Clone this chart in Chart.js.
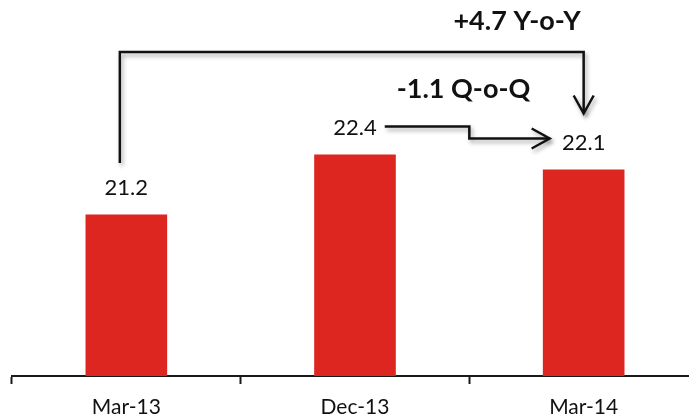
<!DOCTYPE html>
<html>
<head>
<meta charset="utf-8">
<script src="https://cdn.jsdelivr.net/npm/chart.js@4/dist/chart.umd.min.js"></script>
<style>
  html, body { margin: 0; padding: 0; background: #ffffff; }
  /* the axis runs on past the right edge, so the canvas is a little wider than the frame */
  #wrap { width: 689px; height: 418px; overflow: hidden; }
  #c { display: block; }
</style>
</head>
<body>
<div id="wrap"><canvas id="c" width="698" height="418"></canvas></div>
<script>
// Quarter-end values
const categories = ['Mar-13', 'Dec-13', 'Mar-14'];
const values = [21.2, 22.4, 22.1];
const yoyLabel = '+4.7 Y-o-Y';
const qoqLabel = '-1.1 Q-o-Q';

const BAR_RED = '#dd2620';
const INK = '#111111';

function arrowHead(ctx, x, y, dir, len, half) {
  ctx.beginPath();
  if (dir === 'down') {
    ctx.moveTo(x - half, y - len); ctx.lineTo(x, y); ctx.lineTo(x + half, y - len);
  } else {
    ctx.moveTo(x - len, y - half); ctx.lineTo(x, y); ctx.lineTo(x - len, y + half);
  }
  ctx.stroke();
}

function withShadow(ctx, fn) {
  ctx.save();
  ctx.shadowColor = 'rgba(0,0,0,0.35)';
  ctx.shadowBlur = 4;
  ctx.shadowOffsetX = 2;
  ctx.shadowOffsetY = 3;
  fn();
  ctx.restore();
}

// Value labels plus the year-on-year and quarter-on-quarter connectors
const annotations = {
  id: 'annotations',
  afterDatasetsDraw(chart) {
    const ctx = chart.ctx;
    const bars = chart.getDatasetMeta(0).data;
    const top = chart.chartArea.top;
    const [b0, b1, b2] = bars;
    ctx.save();
    ctx.fillStyle = INK;
    ctx.strokeStyle = INK;
    ctx.lineWidth = 2.5;
    ctx.lineJoin = 'miter';
    ctx.lineCap = 'butt';

    // value labels above each bar
    ctx.font = '22px Lato';
    ctx.textAlign = 'center';
    ctx.textBaseline = 'middle';
    const labelY = bars.map(b => b.y - 27);
    bars.forEach((b, i) => ctx.fillText(values[i].toFixed(1), b.x, labelY[i]));

    // year-on-year bracket: first bar -> last bar
    const xl = b0.x - 6.5, xr = b2.x, yTop = top + 52;
    const tipY = b2.y - 56;
    withShadow(ctx, () => {
      ctx.beginPath();
      ctx.moveTo(xl, b0.y - 51.5);
      ctx.lineTo(xl, yTop);
      ctx.lineTo(xr, yTop);
      ctx.lineTo(xr, tipY);
      ctx.stroke();
      arrowHead(ctx, xr, tipY, 'down', 18, 10);
    });

    // quarter-on-quarter step connector: middle bar label -> last bar label
    const w1 = ctx.measureText(values[1].toFixed(1)).width;
    const xs = b1.x + w1 / 2 + 8;
    const xm = (b1.x + b2.x) / 2;
    const xe = b2.x - 34;
    const yA = b1.y - 28, yB = b2.y - 31;
    withShadow(ctx, () => {
      ctx.beginPath();
      ctx.moveTo(xs, yA);
      ctx.lineTo(xm, yA);
      ctx.lineTo(xm, yB);
      ctx.lineTo(xe, yB);
      ctx.stroke();
      arrowHead(ctx, xe, yB, 'right', 18, 10);
    });

    // bold change captions
    ctx.font = 'bold 27px Lato';
    ctx.textAlign = 'right';
    ctx.textBaseline = 'alphabetic';
    ctx.fillText(yoyLabel, xr - 3, top + 30);
    ctx.fillText(qoqLabel, xm + 61, top + 98);
    ctx.restore();
  }
};

new Chart(document.getElementById('c'), {
  type: 'bar',
  data: {
    labels: categories,
    datasets: [{
      data: values,
      backgroundColor: BAR_RED,
      borderWidth: 0,
      barPercentage: 0.357,
      categoryPercentage: 1.0
    }]
  },
  options: {
    responsive: false,
    animation: false,
    devicePixelRatio: 1,
    layout: { padding: { left: 12, right: 0, top: 0, bottom: 0 } },
    plugins: { legend: { display: false }, tooltip: { enabled: false } },
    scales: {
      x: {
        offset: true,
        grid: {
          offset: true,
          drawOnChartArea: false,
          drawTicks: true,
          tickLength: 8,
          tickWidth: 2,
          tickColor: '#1a1a1a'
        },
        border: { display: true, color: '#1a1a1a', width: 2 },
        ticks: { color: '#111111', font: { family: 'Lato', size: 21 }, padding: 11 },
        afterFit(scale) { scale.height = 42; }
      },
      y: {
        display: false,
        min: 17.97,
        max: 25.49
      }
    }
  },
  plugins: [annotations]
});
</script>
</body>
</html>
